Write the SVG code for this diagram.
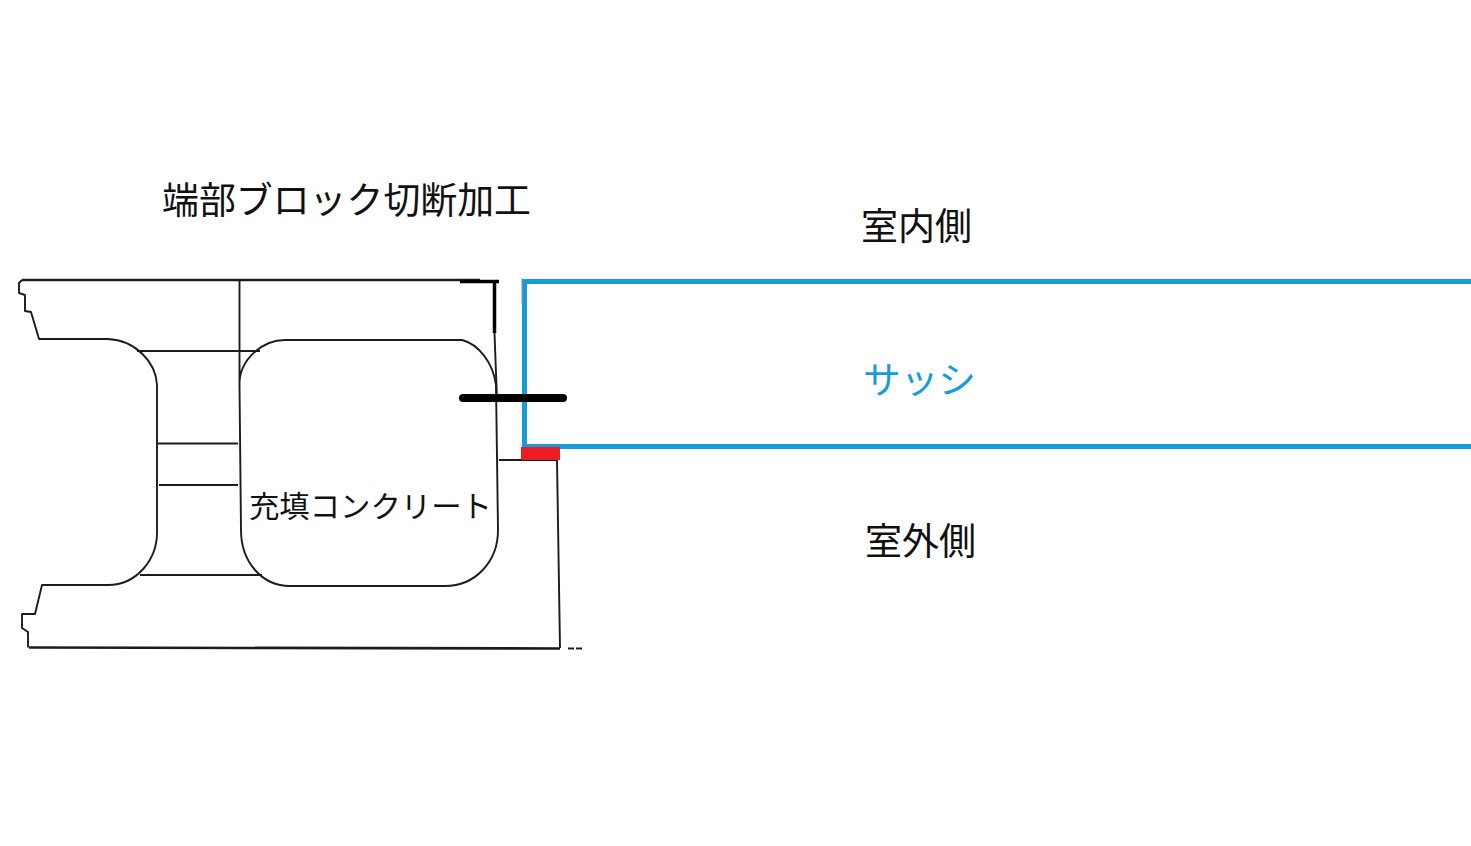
<svg xmlns="http://www.w3.org/2000/svg" width="1471" height="846" viewBox="0 0 1471 846">
<style>
text{font-family:"Noto Sans CJK JP","Noto Sans",sans-serif;fill:#111}
.t37{font-size:37px}
.ink{fill:none;stroke:#1c1c1c;stroke-width:1.9;stroke-linejoin:round}
.heavy{stroke-width:2.6}
</style>
<rect width="1471" height="846" fill="#fff"/>
<g id="block">
<path class="ink heavy" d="M22 280H480"/>
<path class="ink" d="M22 280L19 283V293L25 295V311L31 312L39 339H108C135 340 156 362 157 385V530C158 560 136 585 108 585H42L35 614H22V628L28 632V647.500"/>
<path class="ink heavy" d="M29 647.500L560 648.500"/>
<path class="ink" d="M560 648L557 460H499"/>
<path class="ink" d="M239.500 280V385C239 360 262 340 285 340H462C478 344 493 362 496 385L498 530C498 562 475 586 445 586H290C262 586 241 562 241 530L239.500 385"/>
<path class="ink" d="M494.500 333L497 400"/>
<path class="ink" d="M137 351H260M158 443.500H238M159 485H238M140 575H262"/>
<path class="ink" d="M568 648.500H583" stroke-dasharray="6 2"/>
<path fill="none" stroke="#000" stroke-width="3.500" d="M460 281.500H499M494.500 281V333"/>
</g>
<g id="sash">
<rect x="524.500" y="281.500" width="960" height="165" fill="none" stroke="#189cd8" stroke-width="5"/>
<path d="M522 278V304" stroke="#8a8fa0" stroke-width="1"/>
</g>
<g id="seal"><rect x="521" y="447" width="39" height="13" fill="#ec1c24"/></g>
<g id="connectors"><path d="M463 398H563" stroke="#000" stroke-width="8" stroke-linecap="round"/></g>
<g id="labels">
<text class="t37" x="162" y="214" textLength="369" lengthAdjust="spacingAndGlyphs">端部ブロック切断加工</text>
<text class="t37" x="861" y="240" textLength="111" lengthAdjust="spacingAndGlyphs">室内側</text>
<text class="t37" x="863" y="394" textLength="113" lengthAdjust="spacingAndGlyphs" style="fill:#189cd8">サッシ</text>
<text class="t37" x="865" y="555" textLength="111" lengthAdjust="spacingAndGlyphs">室外側</text>
<text x="249" y="517" font-size="30" textLength="243" lengthAdjust="spacingAndGlyphs">充填コンクリート</text>
</g>
</svg>
